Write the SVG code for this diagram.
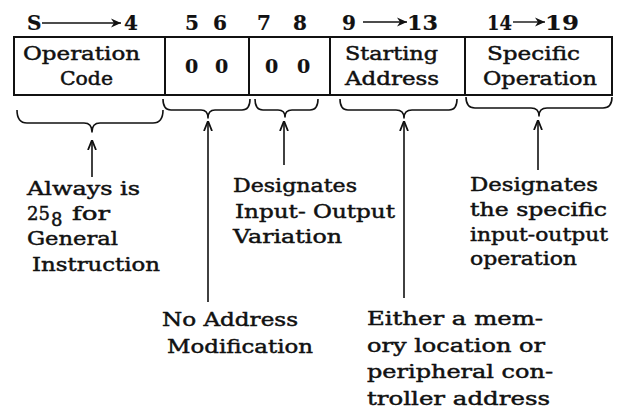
<svg xmlns="http://www.w3.org/2000/svg" width="625" height="408" viewBox="0 0 625 408">
<style>
text{font-family:"DejaVu Serif","Liberation Serif",serif;fill:#111;font-size:18px;stroke:#111;stroke-width:0.45}
.h{font-weight:bold;font-size:20px;stroke-width:0.2}
.z{font-weight:bold;font-size:19px;stroke-width:0.2}
.box{fill:none;stroke:#111;stroke-width:2}
.br{fill:none;stroke:#111;stroke-width:1.6;stroke-linejoin:round}
.ar{fill:none;stroke:#111;stroke-width:1.6}
.ha{fill:none;stroke:#111;stroke-width:1.4}
</style>
<defs>
<marker id="up" viewBox="0 0 10 10" refX="10" refY="5" markerWidth="10" markerHeight="10" orient="auto" markerUnits="userSpaceOnUse">
<path d="M0,1 L10,5 L0,9" fill="none" stroke="#111" stroke-width="1.8"/>
</marker>
<marker id="hd" viewBox="0 0 10 10" refX="10" refY="5" markerWidth="10" markerHeight="10" orient="auto" markerUnits="userSpaceOnUse">
<path d="M0,0.5 L10,5 L0,9.5 L3,5 z" fill="#111"/>
</marker>
</defs>

<g id="header">
<text class="h" x="27" y="30">S</text>
<text class="h" x="124" y="30">4</text>
<text class="h" x="185" y="30">5</text>
<text class="h" x="213" y="30">6</text>
<text class="h" x="257" y="30">7</text>
<text class="h" x="293" y="30">8</text>
<text class="h" x="342" y="30">9</text>
<text class="h" x="407" y="30" textLength="31" lengthAdjust="spacingAndGlyphs">13</text>
<text class="h" x="487" y="30" textLength="25" lengthAdjust="spacingAndGlyphs">14</text>
<text class="h" x="545" y="30" textLength="34" lengthAdjust="spacingAndGlyphs">19</text>
<line class="ha" x1="42" y1="23" x2="121" y2="23" marker-end="url(#hd)"/>
<line class="ha" x1="363" y1="22" x2="407" y2="22" marker-end="url(#hd)"/>
<line class="ha" x1="513" y1="22" x2="545" y2="22" marker-end="url(#hd)"/>
</g>

<g id="word">
<rect class="box" x="14" y="37" width="598" height="58"/>
<line class="box" x1="165" y1="37" x2="165" y2="95"/>
<line class="box" x1="249" y1="37" x2="249" y2="95"/>
<line class="box" x1="330" y1="37" x2="330" y2="95"/>
<line class="box" x1="465" y1="37" x2="465" y2="95"/>
</g>

<g id="op-code">
<text x="23" y="60" textLength="117" lengthAdjust="spacingAndGlyphs">Operation</text>
<text x="60" y="85" textLength="53" lengthAdjust="spacingAndGlyphs">Code</text>
</g>
<g id="field-56">
<text class="z" x="185" y="73">0</text>
<text class="z" x="215" y="73">0</text>
</g>
<g id="field-78">
<text class="z" x="265" y="73">0</text>
<text class="z" x="297" y="73">0</text>
</g>
<g id="starting-address">
<text x="345" y="60" textLength="93" lengthAdjust="spacingAndGlyphs">Starting</text>
<text x="345" y="85" textLength="94" lengthAdjust="spacingAndGlyphs">Address</text>
</g>
<g id="specific-operation">
<text x="487" y="60" textLength="93" lengthAdjust="spacingAndGlyphs">Specific</text>
<text x="483" y="85" textLength="114" lengthAdjust="spacingAndGlyphs">Operation</text>
</g>

<g id="braces">
<path class="br" d="M17,110 Q17,123 27,123 L84,123 Q92,123 92,132 Q92,123 100,123 L153,123 Q163,123 163,110"/>
<path class="br" d="M163,99 Q163,110 171,110 L201,110 Q208,110 208,118 Q208,110 215,110 L242,110 Q250,110 250,99"/>
<path class="br" d="M255,99 Q255,110 263,110 L278,110 Q285,110 285,117 Q285,110 292,110 L310,110 Q318,110 318,99"/>
<path class="br" d="M340,99 Q340,110 348,110 L396,110 Q404,110 404,118 Q404,110 412,110 L449,110 Q457,110 457,99"/>
<path class="br" d="M466,97 Q466,108 475,108 L531,108 Q539,108 539,116 Q539,108 547,108 L603,108 Q612,108 612,97"/>
</g>

<g id="connectors">
<line class="ar" x1="92" y1="177" x2="92" y2="140" marker-end="url(#up)"/>
<line class="ar" x1="208" y1="302" x2="208" y2="121" marker-end="url(#up)"/>
<line class="ar" x1="284" y1="165" x2="284" y2="121" marker-end="url(#up)"/>
<line class="ar" x1="404" y1="298" x2="404" y2="121" marker-end="url(#up)"/>
<line class="ar" x1="538" y1="170" x2="538" y2="120" marker-end="url(#up)"/>
</g>

<g id="note-always">
<text x="27" y="195" textLength="113" lengthAdjust="spacingAndGlyphs">Always is</text>
<text x="27" y="220" textLength="23" lengthAdjust="spacingAndGlyphs">25</text>
<text x="51" y="226" font-size="15">8</text>
<text x="72" y="220" textLength="38" lengthAdjust="spacingAndGlyphs">for</text>
<text x="27" y="245" textLength="91" lengthAdjust="spacingAndGlyphs">General</text>
<text x="32" y="271" textLength="128" lengthAdjust="spacingAndGlyphs">Instruction</text>
</g>

<g id="note-io-variation">
<text x="233" y="192" textLength="124" lengthAdjust="spacingAndGlyphs">Designates</text>
<text x="235" y="218" textLength="160" lengthAdjust="spacingAndGlyphs">Input- Output</text>
<text x="233" y="243" textLength="109" lengthAdjust="spacingAndGlyphs">Variation</text>
</g>

<g id="note-specific">
<text x="470" y="191" textLength="128" lengthAdjust="spacingAndGlyphs">Designates</text>
<text x="470" y="216" textLength="137" lengthAdjust="spacingAndGlyphs">the specific</text>
<text x="470" y="241" textLength="138" lengthAdjust="spacingAndGlyphs">input-output</text>
<text x="470" y="265" textLength="107" lengthAdjust="spacingAndGlyphs">operation</text>
</g>

<g id="note-no-address">
<text x="162" y="326" textLength="136" lengthAdjust="spacingAndGlyphs">No Address</text>
<text x="167" y="353" textLength="146" lengthAdjust="spacingAndGlyphs">Modification</text>
</g>

<g id="note-either">
<text x="367" y="325" textLength="176" lengthAdjust="spacingAndGlyphs">Either a mem-</text>
<text x="367" y="352" textLength="178" lengthAdjust="spacingAndGlyphs">ory location or</text>
<text x="367" y="378" textLength="186" lengthAdjust="spacingAndGlyphs">peripheral con-</text>
<text x="367" y="405" textLength="183" lengthAdjust="spacingAndGlyphs">troller address</text>
</g>
</svg>
